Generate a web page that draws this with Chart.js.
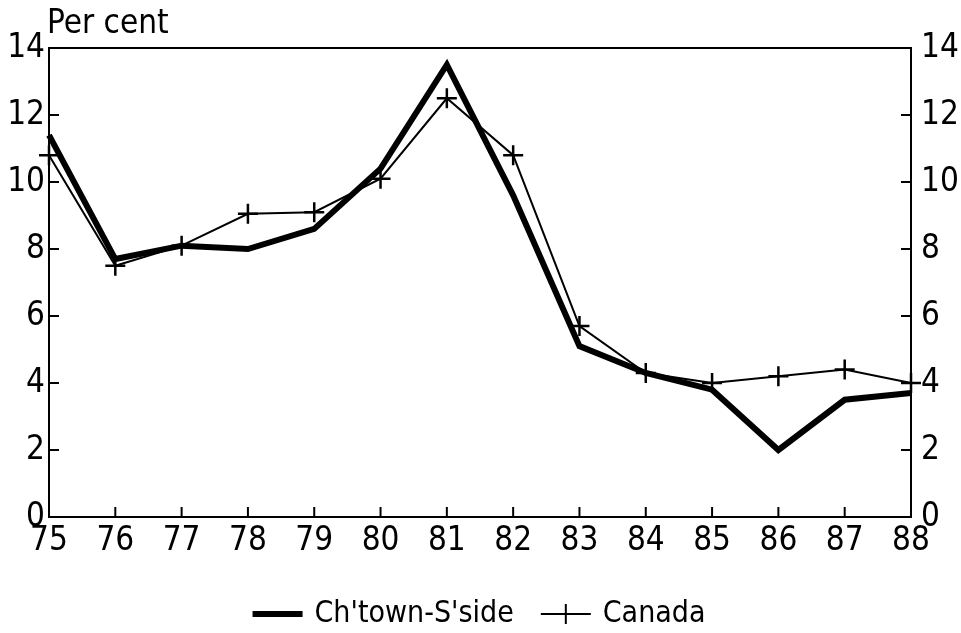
<!DOCTYPE html>
<html>
<head>
<meta charset="utf-8">
<script src="https://cdn.jsdelivr.net/npm/chart.js@4.4.0/dist/chart.umd.min.js"></script>
<style>
    html, body { margin: 0; padding: 0; background: #fff; }
    #wrap { width: 961px; height: 633px; }
</style>
</head>
<body>
<div id="wrap"><canvas id="line-chart" width="961" height="633"></canvas></div>
<script>
// years and values
var years = ['75', '76', '77', '78', '79', '80', '81', '82', '83', '84', '85', '86', '87', '88'];
var chtown = [11.4, 7.7, 8.1, 8.0, 8.6, 10.4, 13.5, 9.6, 5.1, 4.3, 3.8, 2.0, 3.5, 3.7];
var canada = [10.8, 7.5, 8.1, 9.05, 9.1, 10.1, 12.5, 10.8, 5.7, 4.3, 4.0, 4.2, 4.4, 4.0];
var yTicks = [0, 2, 4, 6, 8, 10, 12, 14];

var fontFamily = "'DejaVu Sans Condensed', 'Liberation Sans Narrow', sans-serif";
var tickFont = { family: fontFamily, size: 33 };

// legend samples
function makeLegendImage(thick, cross) {
    var c = document.createElement('canvas');
    c.width = 52;
    c.height = 24;
    var g = c.getContext('2d');
    g.strokeStyle = '#000';
    g.lineWidth = thick;
    g.beginPath();
    g.moveTo(1, 12);
    g.lineTo(51, 12);
    g.stroke();
    if (cross) {
        g.lineWidth = 2;
        g.beginPath();
        g.moveTo(26, 2);
        g.lineTo(26, 22);
        g.moveTo(16, 12);
        g.lineTo(36, 12);
        g.stroke();
    }
    return c;
}
var legendThick = makeLegendImage(6, false);
var legendCross = makeLegendImage(2, true);

var frame = {
    id: 'frame',
    beforeDraw: function(chart) {
        var ctx = chart.ctx;
        ctx.save();
        ctx.fillStyle = '#fff';
        ctx.fillRect(0, 0, chart.width, chart.height);
        ctx.restore();
    },
    afterDraw: function(chart) {
        var ctx = chart.ctx;
        var a = chart.chartArea;
        var x = chart.scales.x;
        var yl = chart.scales.y;
        var yr = chart.scales.y2;
        ctx.save();
        ctx.strokeStyle = '#000';
        ctx.lineWidth = 2;
        ctx.beginPath();
        ctx.moveTo(a.left, a.top);
        ctx.lineTo(a.right, a.top);
        // inward ticks
        for (var i = 1; i < years.length - 1; i++) {
            var px = x.getPixelForValue(i);
            ctx.moveTo(px, a.bottom);
            ctx.lineTo(px, a.bottom - 10);
        }
        for (var j = 1; j < yTicks.length - 1; j++) {
            var py = yl.getPixelForValue(yTicks[j]);
            ctx.moveTo(a.left, py);
            ctx.lineTo(a.left + 10, py);
            var pr = yr.getPixelForValue(yTicks[j]);
            ctx.moveTo(a.right, pr);
            ctx.lineTo(a.right - 10, pr);
        }
        ctx.stroke();
        ctx.fillStyle = '#000';
        ctx.font = "33px " + fontFamily;
        ctx.textAlign = 'left';
        ctx.textBaseline = 'alphabetic';
        ctx.fillText('Per cent', a.left - 2, 33);
        ctx.restore();
    }
};

var ctx = document.getElementById('line-chart');
var chart = new Chart(ctx, {
    type: 'line',
    data: {
        labels: years,
        datasets: [{
            label: "Ch'town-S'side",
            data: chtown,
            borderColor: '#000',
            borderWidth: 6,
            pointRadius: 0,
            tension: 0,
            yAxisID: 'y'
        }, {
            label: 'Canada',
            data: canada,
            borderColor: '#000',
            borderWidth: 2,
            pointStyle: 'cross',
            pointRadius: 10,
            pointBorderWidth: 2.5,
            pointBorderColor: '#000',
            tension: 0,
            yAxisID: 'y'
        }]
    },
    options: {
        responsive: false,
        animation: false,
        clip: false,
        layout: { padding: { top: 48, left: 0, right: 0, bottom: -6 } },
        plugins: {
            tooltip: { enabled: false },
            legend: {
                position: 'bottom',
                labels: {
                    color: '#000',
                    font: { family: fontFamily, size: 30 },
                    usePointStyle: true,
                    pointStyleWidth: 44,
                    padding: 30,
                    generateLabels: function(chart) {
                        return chart.data.datasets.map(function(ds, i) {
                            return {
                                text: ds.label,
                                pointStyle: i === 0 ? legendThick : legendCross,
                                fontColor: '#000',
                                datasetIndex: i,
                                hidden: false,
                                lineWidth: 0
                            };
                        });
                    }
                }
            }
        },
        scales: {
            x: {
                offset: false,
                grid: { display: false, drawTicks: false },
                border: { color: '#000', width: 2 },
                ticks: { color: '#000', font: tickFont, padding: 5, maxRotation: 0, autoSkip: false },
                afterFit: function(s) { s.height = 52; }
            },
            y: {
                position: 'left',
                min: 0,
                max: 14,
                grid: { display: false, drawTicks: false },
                border: { color: '#000', width: 2 },
                ticks: { color: '#000', font: tickFont, stepSize: 2, padding: 4 },
                afterFit: function(s) { s.width = 49; }
            },
            y2: {
                position: 'right',
                min: 0,
                max: 14,
                grid: { display: false, drawTicks: false },
                border: { color: '#000', width: 2 },
                ticks: { color: '#000', font: tickFont, stepSize: 2, padding: 10 },
                afterFit: function(s) { s.width = 50; }
            }
        }
    },
    plugins: [frame]
});
</script>
</body>
</html>
